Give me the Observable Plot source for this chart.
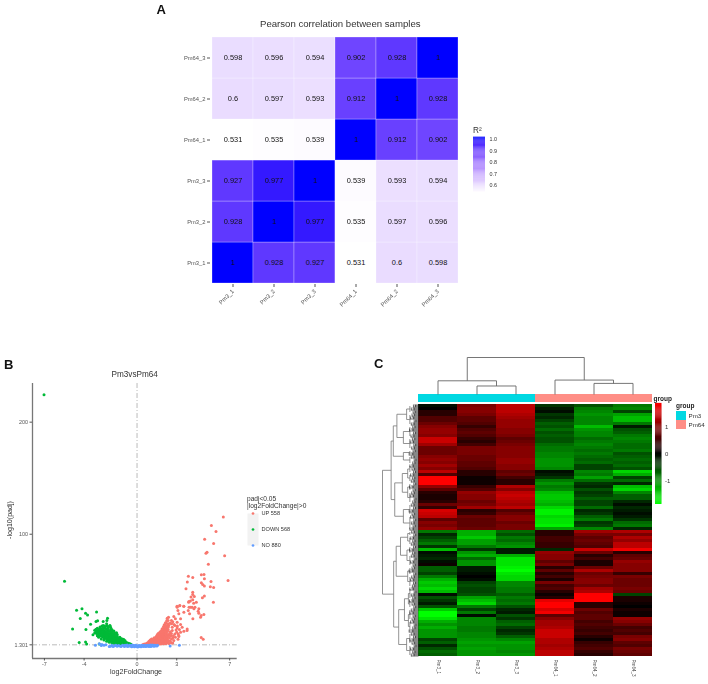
<!DOCTYPE html>
<html><head><meta charset="utf-8">
<script src="https://cdn.jsdelivr.net/npm/d3@7"></script>
<script src="https://cdn.jsdelivr.net/npm/@observablehq/plot@0.6"></script>
<style>
html,body{margin:0;padding:0;background:#fff}
#page{position:relative;width:708px;height:684px;overflow:hidden;font-family:"Liberation Sans",Arial,sans-serif;filter:blur(.3px)}
.lab{position:absolute;white-space:pre;line-height:1;color:#222}
</style></head><body><div id="page"></div>
<script>
// ---------- Panel A
const samples = ["Pm3_1","Pm3_2","Pm3_3","Pm64_1","Pm64_2","Pm64_3"];
const corrRows = [
  [1,0.928,0.927,0.531,0.6,0.598],
  [0.928,1,0.977,0.535,0.597,0.596],
  [0.927,0.977,1,0.539,0.593,0.594],
  [0.531,0.535,0.539,1,0.912,0.902],
  [0.6,0.597,0.593,0.912,1,0.928],
  [0.598,0.596,0.594,0.902,0.928,1]
];
const corrTicks = [0.6,0.7,0.8,0.9,1.0];

// ---------- Panel B
const upPoints = [[6.52,115.3],[5.62,107.8],[5.97,102.5],[5.11,95.6],[5.79,91.8],[5.29,84],[5.21,83.1],[6.62,80.8],[5.39,73.3],[3.88,62.6],[4.21,61.4],[4.86,63.8],[5.06,64.1],[5.09,60.2],[6.88,58.7],[3.8,57.3],[5.59,57.8],[4.86,56.7],[4.96,55.2],[5.09,53.7],[5.54,53.1],[5.79,52.5],[3.7,51.3],[4.21,48.3],[4.21,46.2],[4.08,43.9],[4.33,44.5],[4.21,41.5],[4.03,40.3],[3.9,39.4],[5.09,44.8],[4.94,43.3],[5.77,39.4],[4.48,39.4],[4.28,38.5],[3.02,35.8],[3.22,36.1],[3.53,35.8],[3.93,34.9],[4.16,34.9],[4.38,34.9],[4.85,7.8],[5,6.3],[2.28,25],[3.03,34.9],[3.24,36.4],[3.09,31.9],[3.54,35.8],[3.92,40],[4.04,34.9],[3.87,31.9],[3.97,29],[4.3,33.4],[4.67,33.4],[4.62,31.3],[4.67,29.5],[5.05,28.3],[4.85,27.5],[4.22,24.5],[4.8,26],[3.54,30.4],[3.16,29],[2.78,26.6],[2.9,24.5],[3.29,24.5],[2.61,20],[3.03,21.5],[2.86,18.5],[3.29,19.4],[3.41,17],[2.4,18.5],[2.66,17],[3.79,15.5],[3.54,13.5],[3.29,12.6],[3.11,11],[2.86,11],[3.16,8.7],[2.9,8.1],[2.61,6.6],[2.4,9.6],[2.66,14],[3.03,16.4],[2.28,14],[2.53,3.6],[2.36,5.1],[2.15,2.8],[2.78,5.1],
[0.45,1.6],[0.55,2],[0.6,1.5],[0.7,2.4],[0.75,1.6],[0.8,3.1],[0.85,1.9],[0.9,2.6],[0.95,3.7],[1,1.7],[1,2.9],[1.05,4.2],[1.1,2.2],[1.1,3.4],[1.15,5],[1.2,1.6],[1.2,2.8],[1.2,4.1],[1.25,5.8],[1.3,2.1],[1.3,3.5],[1.3,4.8],[1.35,6.4],[1.4,1.7],[1.4,2.9],[1.4,4.2],[1.4,5.6],[1.45,7.2],[1.5,2.2],[1.5,3.6],[1.5,5],[1.5,6.4],[1.55,8.1],[1.6,1.8],[1.6,3.1],[1.6,4.5],[1.6,5.9],[1.6,7.3],[1.65,9],[1.7,2.4],[1.7,3.8],[1.7,5.3],[1.7,6.8],[1.7,8.2],[1.75,10.1],[1.8,2],[1.8,3.2],[1.8,4.6],[1.8,6.1],[1.8,7.6],[1.8,9.2],[1.85,11.4],[1.9,2.7],[1.9,4.1],[1.9,5.6],[1.9,7.1],[1.9,8.6],[1.9,10.2],[1.95,12.6],[2,2.2],[2,3.5],[2,5],[2,6.6],[2,8.1],[2,9.7],[2,11.3],[2.05,13.9],[2.1,2.9],[2.1,4.4],[2.1,6],[2.1,7.6],[2.1,9.2],[2.1,10.8],[2.1,12.4],[2.15,15.1],[2.2,2.5],[2.2,3.9],[2.2,5.5],[2.2,7.1],[2.2,8.8],[2.2,10.3],[2.2,12],[2.2,13.8],[2.25,16.7],[2.3,3.3],[2.3,5],[2.3,6.8],[2.3,8.5],[2.3,10.6],[2.3,13.1],[2.3,18],[2.35,4.4],[2.45,7.6],[2.45,11.2],[2.5,13],[2.55,9.3],[2.6,11.5],[2.7,7.7],
[0.9,4.5],[1,5.5],[1.1,6.5],[1.25,6.8],[1.3,7.6],[1.4,7.5],[1.45,8.6],[1.5,9.6],[1.55,10.5],[1.6,11.4],[1.7,10.5],[1.7,12],[1.75,13],[1.85,12.7],[1.85,14.1],[1.9,15.6],[2,13.6],[2,15.6],[2,17.5],[2.05,19],[2.1,15],[2.1,17],[2.1,19.5],[2.15,21],[2.2,16],[2.2,18.5],[2.2,21],[2.25,23],[2.35,15],[2.35,17],[2.35,20],[2.35,23],[2.38,26],[2.4,2.5],[2.5,5],[2.6,3],[2.7,2.9],[2.5,20.5],[2.6,23],[2.7,22],[2.8,19.5],[3,12.5],[3.05,18],[3.2,15],[2.95,14.5],[2.75,9.5],[3.1,6.3],[3.15,9.6],[3.78,14]];
const downPoints = [[-7.03,224.5],[-5.48,58.1],[-4.57,32.2],[-4.16,33.4],[-4.29,24.7],[-3.89,29.5],[-3.74,28],[-3.06,30.7],[-4.87,15.5],[-3.86,14.9],[-3.51,19.7],[-4.37,3.3],[-3.89,3.9],[-3.81,2.1],[-2.98,22.7],[-3.1,22.1],[-2.56,22.1],[-2.28,23],[-2.23,25],[-2.3,20],[-2.05,18.5],[-2.56,18.5],[-3.33,10.2],[-2.86,2.1],
[-0.45,1.6],[-0.5,2.1],[-0.55,1.7],[-0.6,2.5],[-0.65,1.9],[-0.7,2.9],[-0.75,2.2],[-0.8,3.4],[-0.85,1.8],[-0.85,2.7],[-0.9,3.9],[-0.95,2.2],[-0.95,3.1],[-1,4.4],[-1,1.7],[-1.05,2.8],[-1.05,3.7],[-1.1,5],[-1.1,2.2],[-1.15,3.3],[-1.15,4.3],[-1.2,5.6],[-1.2,1.9],[-1.25,2.7],[-1.25,3.9],[-1.25,4.9],[-1.3,6.3],[-1.3,2.2],[-1.35,3.3],[-1.35,4.4],[-1.35,5.5],[-1.4,7],[-1.4,2.7],[-1.45,3.8],[-1.45,5],[-1.45,6.2],[-1.5,7.8],[-1.5,2.3],[-1.55,3.3],[-1.55,4.5],[-1.55,5.7],[-1.55,6.9],[-1.6,8.6],[-1.6,2.8],[-1.65,4],[-1.65,5.2],[-1.65,6.4],[-1.65,7.6],[-1.7,9.4],[-1.7,3.2],[-1.75,4.6],[-1.75,5.8],[-1.75,7.1],[-1.75,8.4],[-1.8,10.3],[-1.8,3.7],[-1.85,5.1],[-1.85,6.4],[-1.85,7.8],[-1.85,9.1],[-1.9,11.2],[-1.9,4.2],[-1.95,5.7],[-1.95,7.1],[-1.95,8.5],[-1.95,9.9],[-2,12.1],[-2,4.8],[-2.05,6.3],[-2.05,7.7],[-2.05,9.2],[-2.05,10.6],[-2.1,13.1],[-2.1,5.3],[-2.15,6.9],[-2.15,8.4],[-2.15,9.9],[-2.15,11.4],[-2.2,14],[-2.2,5.9],[-2.25,7.5],[-2.25,9.1],[-2.25,10.6],[-2.25,12.2],[-2.3,14.9],[-2.3,6.5],[-2.35,8.1],[-2.35,9.7],[-2.35,11.3],[-2.35,13],[-2.4,15.8],[-2.4,7.1],[-2.45,8.8],[-2.45,10.4],[-2.45,12],[-2.45,13.7],[-2.5,16.5],[-2.5,7.7],[-2.55,9.4],[-2.55,11],[-2.55,12.8],[-2.55,14.6],[-2.6,8.4],[-2.65,10],[-2.65,11.8],[-2.65,13.5],[-2.65,15.3],[-2.7,9],[-2.75,10.7],[-2.75,12.4],[-2.75,14.2],[-2.8,16],[-2.85,9.7],[-2.85,11.4],[-2.85,13],[-2.9,14.8],[-2.95,10.5],[-2.95,12.2],[-3,13.8],[-3,16],[-3.05,11.3],[-3.1,13],[-3.1,15.2],[-3.2,11.9],[-3.2,14.2],
[-0.9,5],[-1,6],[-1.1,6.6],[-1.25,7.1],[-1.3,8.1],[-1.5,9],[-1.5,10.6],[-1.55,12],[-1.7,10.6],[-1.7,12.1],[-1.75,13.6],[-1.85,11.1],[-1.85,13.1],[-1.9,15],[-2,13.6],[-2,15.1],[-2,17],[-2.05,18.1],[-2.2,15.6],[-2.2,17.1],[-2.25,18.4],[-2.4,17.1],[-2.45,18.2],[-2.6,16.6],[-2.65,18],[-2.8,17.2],[-2.8,15.5],[-2.1,3.5],[-2.3,4.5],[-2.5,5.5],[-2.7,6.5],[-2.9,8],[-3,9.5],[-1.7,2.5],[-1.5,1.8],[-1.9,2.9]];
const noPoints = [[-3.15,1],[-2.85,2.2],[-2.7,0.6],[-2.65,1.6],[-2.5,1],[-2.35,1.4],[-2.1,-0.3],[-2,0.1],[-1.9,0.9],[-1.8,-0.2],[-1.7,0.4],[-1.6,1],[-1.5,0],[-1.4,0.7],[-1.3,0.3],[-1.2,-0.2],[-1.1,1],[-1,0.4],[-0.95,-0.1],[-0.9,0.9],[-0.8,0.3],[-0.75,1.1],[-0.7,-0.3],[-0.6,0.5],[-0.55,1],[-0.5,0],[-0.45,0.6],[-0.4,-0.4],[-0.35,1.1],[-0.3,0.2],[-0.25,0.7],[-0.2,-0.5],[-0.15,0.3],[-0.1,0.9],[-0.05,-0.3],[0,0.4],[0.05,-0.6],[0.1,0.2],[0.15,0.8],[0.2,-0.2],[0.25,0.5],[0.3,-0.4],[0.35,1],[0.4,0.1],[0.45,0.6],[0.5,-0.3],[0.55,0.9],[0.6,0.3],[0.65,-0.2],[0.7,0.7],[0.75,0],[0.8,1],[0.85,0.4],[0.9,-0.1],[0.95,0.8],[1,0.2],[1,1.1],[1.05,-0.1],[1.1,0.6],[1.15,1.1],[1.2,0.3],[1.25,0.8],[1.3,0],[1.35,1],[1.4,0.5],[1.5,0.2],[1.55,0.9],[2.5,0.3],[3.2,1]];
const volcanoXTicks = [-7,-4,0,3,7];
const volcanoYTicks = [1.301,100,200];
const volcanoLegend = [["UP 558","#F8766D"],["DOWN 568","#00BA38"],["NO 880","#619CFF"]];

// ---------- Panel C
const heatRows = [
[-.1,.9,1.4,-.4,-.6,-.9],[0,1,1.4,-.2,-.9,-1],[.3,1,1.4,-.1,-1,-.5],[.3,.9,1.3,-.4,-1.1,-1.2],[.6,.7,1.2,-.3,-1,-1.4],[.6,.7,1.1,-.5,-1,-1.4],[.8,.6,1.1,-.7,-1,-.9],[1,.4,1.1,-.6,-1.4,-.2],[1.1,.6,1,-.8,-1.1,-.6],[1.1,.7,1,-.6,-1,-.7],[1,.6,.9,-.7,-1,-.9],[1.5,.4,.7,-.6,-.8,-1],[1.5,.3,.8,-.6,-.9,-.9],[1.2,.5,.9,-.8,-1,-.8],
[.8,.9,1,-.9,-.9,-.8],[.8,.9,1,-.9,-.8,-.9],[.8,.9,1,-1,-.9,-.6],[1,.8,1,-1,-.8,-.7],[1.1,.8,1.1,-1.1,-.7,-.8],[1,.7,1.1,-1.1,-.8,-.7],[1.2,.7,1,-1.1,-.5,-.8],[1,.6,1,-1,-.5,-.6],[1.4,.3,.7,-.1,-1,-1.6],[.6,.3,.8,-.2,-.9,-1.3],[1.9,.1,.5,-.4,-1.2,-.5],[1.9,.1,.3,-.9,-.8,-.8],[1.9,.1,.3,-1.1,-.4,-.3],[1.1,.4,1.3,-.9,-.3,-1.4],[.7,.6,1,-1,-.6,-1.6],
[.3,1.1,1.4,-1.4,-.4,-1],[.2,1,1.5,-1.5,-.5,-.7],[.2,1,1.4,-1.5,-.7,-.7],[.3,.8,1.3,-1.4,-.5,-.3],[.8,.9,1.2,-1.3,-.5,-.1],[.4,1.2,1.4,-1.6,-.8,-.3],[1.6,.3,.6,-1.8,-.3,-.2],[1.5,.4,.8,-1.8,-.4,-.1],[1.4,.8,1,-1.6,-.7,-.2],[.7,.7,1,-1.7,-.9,-.4],[1,.7,.8,-1.7,-.4,-.8],[.9,.7,.9,-1.8,-.5,-.9],[1.1,.8,.9,-1.2,-1,-.3],
[-.9,-1.3,-.8,.3,1.2,1.3],[-.3,-1.3,-.6,.3,.9,.9],[-.5,-1.5,-.9,.5,.7,1.3],[-.7,-1.2,-.8,.5,.8,1.1],[-.9,-1.2,-1,.4,.7,1.4],[-.4,-.9,-1.1,.4,.6,1.4],[-1.4,-.4,-.2,-.3,1.5,1.8],[-.1,-1.1,-.2,1.1,.8,.3],[-.2,-1.3,-1.3,1,.3,.7],[-.3,-.8,-1.7,1,.5,.8],[-.1,-1.1,-1.7,.7,.2,1.1],[.1,-1.1,-1.7,.9,.2,1],[-.7,-.2,-1.8,.3,.8,1],[-.7,-.2,-1.9,.7,1.3,1],
[-.5,-.1,-1.7,.3,.8,.4],[-.9,0,-1.6,.5,.9,.9],[-1.3,-.1,-1.6,.2,1,.8],[-1.5,-.5,-1,.9,1,.8],[-1.4,-.6,-1,.5,.8,.8],[-1.6,-.5,-.9,.6,1.2,.9],[-1.4,-.5,-.9,.3,1.3,.8],[-.1,-.6,-.7,.1,1.9,-.5],[-.6,-1.2,-.9,.3,1.9,.2],[-.4,-1.4,-.8,1.7,1.9,.2],[-.2,-1.6,-.9,1.9,.3,.1],[-.6,-.9,-.6,1.9,.3,0],[-1.5,-.5,-.3,1.6,.8,.2],[-1.9,-.9,-.2,1.8,.6,.1],
[-1.9,-.1,-.6,.7,.7,.1],[-1.7,-1,-.4,1,.7,1.1],[-1.3,-1,-.7,1.2,.5,1],[-1.1,-1,-.8,1.2,.6,.8],[-1.3,-.9,-.5,1.3,.5,.5],[-1.1,-.9,-.3,1.5,.4,.6],[-1.1,-1,-.4,1.5,.5,.5],[-1.1,-1,-.7,1.5,.3,.9],[-.5,-1.1,-1,1.3,.1,1],[-.7,-1.2,-1.2,1.3,.4,.7],[-.3,-1.1,-1.1,1.2,.5,.6],[-.6,-1.2,-1.1,1.3,.6,.9],[-.8,-1.1,-1,1.4,.4,.8],[-.7,-1.1,-1.1,1.4,.3,.7]];
const heatTicks = [-1,0,1];
const groupNames = ["Pm3","Pm64"];
const groupOf = ["Pm3","Pm3","Pm3","Pm64","Pm64","Pm64"];
const groupColors = ["#00D8E2","#FF8E86"];
// column tree: [merge height, left, right]; a number is a leaf column
const colTree = [1,[.37,0,[.23,1,2]],[.39,3,[.3,4,5]]];
// row tree: [merge height, left, right]; a two-number list is a leaf block of rows
const rowTree = [1,
 [.69,
  [.55,[.33,[0,3],[4,7]],[.39,[.28,[8,11],[12,15]],[.28,[16,18],[19,22]]]],
  [.62,[.3,[23,26],[27,29]],[.5,[.32,[30,33],[34,36]],[.3,[37,39],[40,41]]]]],
 [.76,
  [.66,[.42,[42,46],[47,50]],[.45,[.3,[51,54],[55,57]],[.3,[58,60],[61,63]]]],
  [.7,[.42,[64,66],[67,68]],[.6,[.42,[69,72],[73,76]],[.33,[77,80],[81,83]]]]]];
// height at which each heat-map row's fine branches start
const rowCombHeights = [.2,.16,.22,.12,.18,.24,.14,.2,.26,.16,.12,.22,.18,.15,.24,.2,.13,.18,.25,.16,.2,.12,.24,.17,.14,.22,.19,.13,.26,.18,.15,.22,.12,.2,.17,.25,.14,.2,.16,.23,.13,.19,
.24,.15,.2,.13,.22,.18,.26,.14,.2,.16,.12,.23,.19,.15,.25,.13,.2,.17,.22,.14,.18,.24,.16,.12,.2,.26,.15,.19,.13,.23,.17,.21,.14,.25,.16,.2,.12,.22,.18,.15,.2,.14];

// ---------- helpers
const page = document.getElementById("page");
const FONT = '"Liberation Sans",Arial,sans-serif';
function put(opts, left, top) {
  const el = Plot.plot({...opts, style:{fontFamily:FONT, background:"transparent", overflow:"visible"}});
  el.style.position = "absolute"; el.style.left = left+"px"; el.style.top = top+"px";
  page.appendChild(el);
}
function label(t, left, top, size, extra={}) {
  const d = document.createElement("div"); d.className="lab"; d.textContent=t;
  d.style.left=left+"px"; d.style.top=top+"px"; d.style.fontSize=size+"px";
  Object.assign(d.style, extra); page.appendChild(d);
}
function walk(node, segs, leaf) {
  if (!Array.isArray(node) || node.length === 2) return leaf(node, segs);
  const a = walk(node[1], segs, leaf), b = walk(node[2], segs, leaf), h = node[0];
  segs.push({p1:a.p,h1:h,p2:b.p,h2:h},{p1:a.p,h1:a.h,p2:a.p,h2:h},{p1:b.p,h1:b.h,p2:b.p,h2:h});
  return {p:(a.p+b.p)/2,h};
}

// ---------- A: heat map
const corrData = corrRows.flatMap((r,i)=>r.map((v,j)=>({x:samples[j],y:samples[i],v})));
const corrColor = {type:"linear",domain:[.531,1],range:["#ffffff","#0000ff"],interpolate:"lab",clamp:true};
put({width:320,height:313,marginLeft:50,marginRight:21,marginTop:26,marginBottom:39,
  x:{domain:samples,padding:0}, y:{domain:[...samples].reverse(),padding:0}, color:corrColor,
  marks:[
    Plot.cell(corrData,{x:"x",y:"y",fill:"v",stroke:"#fff",strokeOpacity:.45,strokeWidth:.6}),
    Plot.text(corrData,{x:"x",y:"y",text:d=>String(d.v),fontSize:7.4,fill:"#111"}),
    Plot.axisX({anchor:"bottom",tickRotate:-45,tickSize:3,tickPadding:3,fontSize:5.8,stroke:"#555",fill:"#555",label:null}),
    Plot.axisY({anchor:"left",tickSize:3,tickPadding:2,fontSize:5.8,stroke:"#555",fill:"#555",label:null})
  ]},160,10);
label("A",156.5,3,13,{fontWeight:"bold",color:"#111"});
label("Pearson correlation between samples",260,19,9.6,{color:"#333"});
// A: colour bar
const corrStops = d3.range(.531,1.017,.008);
put({width:40,height:56,marginLeft:0,marginRight:28,marginTop:0,marginBottom:0,
  y:{domain:[.531,1.017]}, color:corrColor,
  marks:[
    Plot.rectY(corrStops,{y1:d=>d,y2:d=>d+.009,fill:d=>d}),
    Plot.axisY(corrTicks,{anchor:"right",tickSize:0,tickPadding:4,fontSize:5.4,fill:"#333",stroke:"none",tickFormat:d3.format(".1f"),label:null})
  ]},473,137);
label("R²",473,126.5,8.2,{color:"#333"});

// ---------- B: volcano
const pts = (a,c)=>a.map(([x,y])=>({x,y,c}));
const volcanoData = [...pts(upPoints,"#F8766D"),...pts(downPoints,"#00BA38"),...pts(noPoints,"#619CFF")];
put({width:240,height:324,marginLeft:32,marginRight:3.3,marginTop:23,marginBottom:26,
  x:{domain:[-7.9,7.57]}, y:{domain:[-10.9,234.5]},
  marks:[
    Plot.ruleX([0],{stroke:"#bbb",strokeWidth:1,strokeDasharray:"5 2 1 2"}),
    Plot.ruleY([1.301],{stroke:"#bbb",strokeWidth:1,strokeDasharray:"5 2 1 2"}),
    Plot.dot(volcanoData,{x:"x",y:"y",fill:"c",r:1.5}),
    Plot.ruleX([-7.9],{stroke:"#777",strokeWidth:1.3}),
    Plot.ruleY([-10.9],{stroke:"#777",strokeWidth:1.3}),
    Plot.axisX(volcanoXTicks,{anchor:"bottom",tickSize:2.5,tickPadding:1.5,fontSize:5.4,stroke:"#555",fill:"#555",tickFormat:d=>String(d),label:null}),
    Plot.axisY(volcanoYTicks,{anchor:"left",tickSize:2.5,tickPadding:2,fontSize:5.4,stroke:"#555",fill:"#555",tickFormat:d=>String(d),label:null})
  ]},0,360);
label("B",4,358,13,{fontWeight:"bold",color:"#111"});
label("Pm3vsPm64",111.5,370.5,8.2,{color:"#333"});
label("log2FoldChange",110,668.5,7.1,{color:"#333"});
label("-log10(padj)",11,520,7.1,{color:"#333",transform:"translate(-50%,-50%) rotate(-90deg)"});
label("padj<0.05",247,495.5,6.6,{color:"#333"});
label("|log2FoldChange|>0",247,503,6.6,{color:"#333"});
put({width:60,height:32,marginLeft:0,marginRight:49,marginTop:0,marginBottom:0,
  y:{domain:volcanoLegend.map(d=>d[0]),padding:0,axis:null},
  marks:[
    Plot.frame({fill:"#f2f2f2",stroke:"none"}),
    Plot.dot(volcanoLegend,{frameAnchor:"middle",y:d=>d[0],fill:d=>d[1],r:1.35}),
    Plot.text(volcanoLegend,{frameAnchor:"right",y:d=>d[0],text:d=>d[0],dx:3,textAnchor:"start",fontSize:5.6,fill:"#333"})
  ]},247,513);

// ---------- C: heat map
const heatData = heatRows.flatMap((r,i)=>r.map((v,j)=>({x:samples[j],y:i,v})));
const heatColor = {type:"linear",domain:[-1.9,0,1.9],range:["#00ff00","#000000","#ff0000"],clamp:true};
put({width:240,height:270,marginLeft:3,marginRight:3,marginTop:0,marginBottom:18,
  x:{domain:samples,padding:0}, y:{domain:d3.range(heatRows.length),padding:0,axis:null}, color:heatColor,
  marks:[
    Plot.cell(heatData,{x:"x",y:"y",fill:"v",shapeRendering:"crispEdges"}),
    Plot.axisX({anchor:"bottom",tickRotate:90,tickSize:0,tickPadding:3,fontSize:4.6,fill:"#444",stroke:"none",label:null})
  ]},415,404);
// C: annotation bar
put({width:234,height:7.5,margin:0,
  x:{domain:samples,padding:0,axis:null},
  marks:[Plot.cell(samples,{x:d=>d,fill:(d,i)=>groupColors[groupNames.indexOf(groupOf[i])],shapeRendering:"crispEdges"})]},418,394);
// C: column dendrogram
const colSegs=[];
walk(colTree,colSegs,(n)=>({p:n,h:0}));
put({width:234,height:37,margin:0,
  x:{domain:[-.5,5.5],axis:null}, y:{domain:[0,1],axis:null},
  marks:[Plot.link(colSegs,{x1:"p1",y1:"h1",x2:"p2",y2:"h2",stroke:"#666",strokeWidth:.9})]},418,357);
// C: row dendrogram
const rowSegs=[];
walk(rowTree,rowSegs,([a,b],s)=>{const h=.24;s.push({p1:a+.5,h1:h,p2:b+.5,h2:h});return {p:(a+b+1)/2,h};});
const combSegs = rowCombHeights.flatMap((h,i)=>[
  {p1:i+.17,h1:0,p2:i+.17,h2:h},{p1:i+.5,h1:0,p2:i+.5,h2:h*.7},{p1:i+.83,h1:0,p2:i+.83,h2:h*.85},
  {p1:i,h1:h,p2:i+1,h2:h},{p1:i+.1,h1:h*.6,p2:i+.9,h2:h*.6}]);
put({width:36,height:252,margin:0,
  x:{domain:[1,0],axis:null}, y:{domain:[0,heatRows.length],axis:null},
  marks:[
    Plot.link(rowSegs,{x1:"h1",y1:"p1",x2:"h2",y2:"p2",stroke:"#777",strokeWidth:.8}),
    Plot.link(combSegs,{x1:"h1",y1:"p1",x2:"h2",y2:"p2",stroke:"#333",strokeWidth:.7})
  ]},382,404);
label("C",374,357,13,{fontWeight:"bold",color:"#111"});
// C: colour bar
const heatStops = d3.range(-1.9,1.9,.04);
put({width:22,height:101,marginLeft:0,marginRight:15.5,marginTop:0,marginBottom:0,
  y:{domain:[-1.9,1.9]}, color:heatColor,
  marks:[
    Plot.rectY(heatStops,{y1:d=>d,y2:d=>d+.045,fill:d=>d}),
    Plot.axisY(heatTicks,{anchor:"right",tickSize:0,tickPadding:3,fontSize:6,fill:"#333",stroke:"none",tickFormat:d=>String(d),label:null})
  ]},655,403);
label("group",653.5,395.5,6.5,{fontWeight:"bold",color:"#222"});
label("group",676,402.5,6.5,{fontWeight:"bold",color:"#222"});
put({width:32,height:19.5,marginLeft:0,marginRight:22,marginTop:0,marginBottom:0,
  y:{domain:groupNames,padding:0,axis:null},
  marks:[
    Plot.cell(groupNames,{y:d=>d,fill:(d,i)=>groupColors[i]}),
    Plot.text(groupNames,{frameAnchor:"right",y:d=>d,text:d=>d,dx:2,textAnchor:"start",fontSize:6.2,fill:"#333"})
  ]},676,409.7);
</script></body></html>
